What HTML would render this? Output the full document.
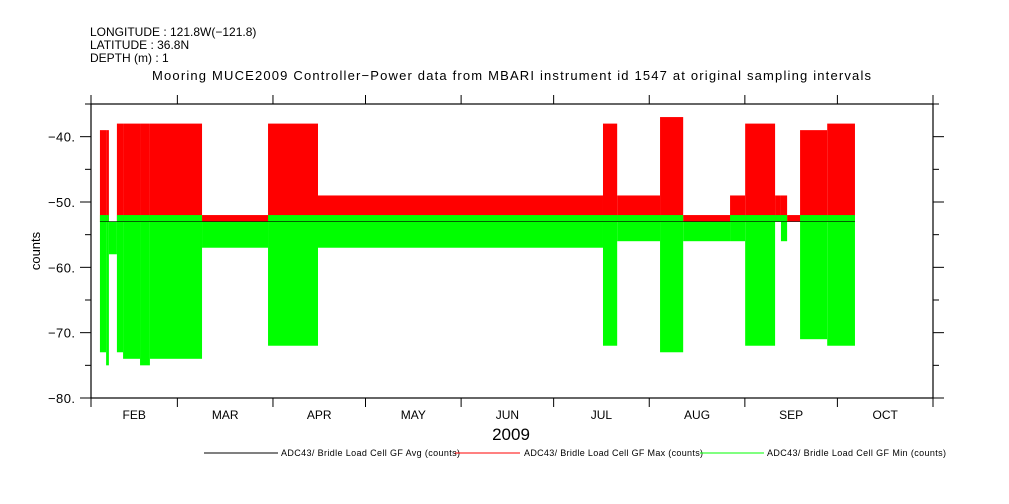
<!DOCTYPE html>
<html><head><meta charset="utf-8"><style>
body{margin:0;background:#fff;}
svg{display:block;font-family:"Liberation Sans",sans-serif;}
</style></head><body>
<svg id="chart" width="1009" height="504" viewBox="0 0 1009 504">
<g font-size="12" fill="#000">
<text x="90" y="36">LONGITUDE : 121.8W(−121.8)</text>
<text x="90" y="49">LATITUDE : 36.8N</text>
<text x="90" y="62">DEPTH (m) : 1</text>
</g>
<text x="152" y="80" textLength="719" font-size="13">Mooring MUCE2009 Controller−Power data from MBARI instrument id 1547 at original sampling intervals</text>
<g id="marks"></g>
<g id="axes"></g>
<text x="40" y="251" transform="rotate(-90 40 251)" text-anchor="middle" font-size="13">counts</text>
<text x="511" y="440" text-anchor="middle" font-size="17">2009</text>
<g font-size="9">
<line x1="204" y1="453" x2="278" y2="453" stroke="#000"/>
<text x="281" y="456" textLength="179">ADC43/ Bridle Load Cell GF Avg (counts)</text>
<line x1="455" y1="453" x2="520" y2="453" stroke="#f00"/>
<text x="524" y="456" textLength="179">ADC43/ Bridle Load Cell GF Max (counts)</text>
<line x1="700" y1="453" x2="764" y2="453" stroke="#0f0"/>
<text x="767" y="456" textLength="179">ADC43/ Bridle Load Cell GF Min (counts)</text>
</g>
</svg>
<script>
// days since Feb 1 2009
const segStart=[2.9,4.9,5.8,8.4,10.4,15.9,19.1,36.0,57.4,73.6,166.0,170.6,184.5,192.0,207.2,212.1,221.8,223.7,225.7,229.9,238.7];
const segEnd  =[4.9,5.8,8.4,10.4,15.9,19.1,36.0,57.4,73.6,166.0,170.6,184.5,192.0,207.2,212.1,221.8,223.7,225.7,229.9,238.7,247.7];
const segMax  =[-39,-39,-53.5,-38,-38,-38,-38,-52,-38,-49,-38,-49,-37,-52,-49,-38,-49,-49,-52,-39,-38];
const segMin  =[-73,-75,-58,-73,-74,-75,-74,-57,-72,-57,-72,-56,-73,-56,-56,-72,-53,-56,-53,-71,-72];
const avgLevel=-53;
const yTicks=[-80,-70,-60,-50,-40];
const monthLabels=["FEB","MAR","APR","MAY","JUN","JUL","AUG","SEP","OCT"];
const monthStarts=[0,28,59,89,120,150,181,212,242,273];

const X0=91,X1=933,Y0=104,Y1=398,D=273,YMIN=-80,YMAX=-35;
const xs=d=>X0+d*(X1-X0)/D;
const ys=v=>Y1-(v-YMIN)*(Y1-Y0)/(YMAX-YMIN);
const NS="http://www.w3.org/2000/svg";
const marks=document.getElementById('marks'),axes=document.getElementById('axes');
function mk(p,tag,at){const e=document.createElementNS(NS,tag);for(const k in at)e.setAttribute(k,at[k]);p.appendChild(e);return e;}
for(let i=0;i<segStart.length;i++){
  const x=xs(segStart[i]),w=xs(segEnd[i])-x;
  const r=mk(marks,'rect',{x:x,y:ys(segMax[i]),width:w,height:Math.max(0,ys(avgLevel)-ys(segMax[i])),fill:'#f00'});
  
  
}
for(let i=0;i<segStart.length;i++){
  const x=xs(segStart[i]),w=xs(segEnd[i])-x;
  const top=segMax[i]>-50?-52:avgLevel;
  const g=mk(marks,'rect',{x:x,y:ys(top),width:w,height:Math.max(0,ys(segMin[i])-ys(top)),fill:'#0f0'});
  
  
}
const av=mk(marks,'line',{x1:xs(segStart[0]),x2:xs(segEnd[segEnd.length-1]),y1:ys(avgLevel),y2:ys(avgLevel),stroke:'#000','stroke-width':0.6});


const fr=mk(axes,'rect',{x:X0,y:Y0,width:X1-X0,height:Y1-Y0,fill:'none',stroke:'#000','stroke-width':1.2});


for(let v=YMIN;v<=YMAX;v+=5){
  const y=ys(v),maj=yTicks.includes(v);
  mk(axes,'line',{x1:X0-(maj?11:6),x2:X0,y1:y,y2:y,stroke:'#000'});
  mk(axes,'line',{x1:X1,x2:X1+(maj?11:6),y1:y,y2:y,stroke:'#000'});
}
yTicks.forEach(v=>{
  const t=mk(axes,'text',{x:X0-16,y:ys(v)+5,'text-anchor':'end','font-size':13,textLength:27});
  t.textContent='−'+Math.abs(v)+'.';
  
  
});
monthStarts.forEach(d=>{
  const x=xs(d);
  mk(axes,'line',{x1:x,x2:x,y1:Y0-9,y2:Y0,stroke:'#000'});
  mk(axes,'line',{x1:x,x2:x,y1:Y1,y2:Y1+9,stroke:'#000'});
});
monthLabels.forEach((m,i)=>{
  const t=mk(axes,'text',{x:xs((monthStarts[i]+monthStarts[i+1])/2),y:Y1+21,'text-anchor':'middle','font-size':12});
  t.textContent=m;
  
  
});
</script>
</body></html>
